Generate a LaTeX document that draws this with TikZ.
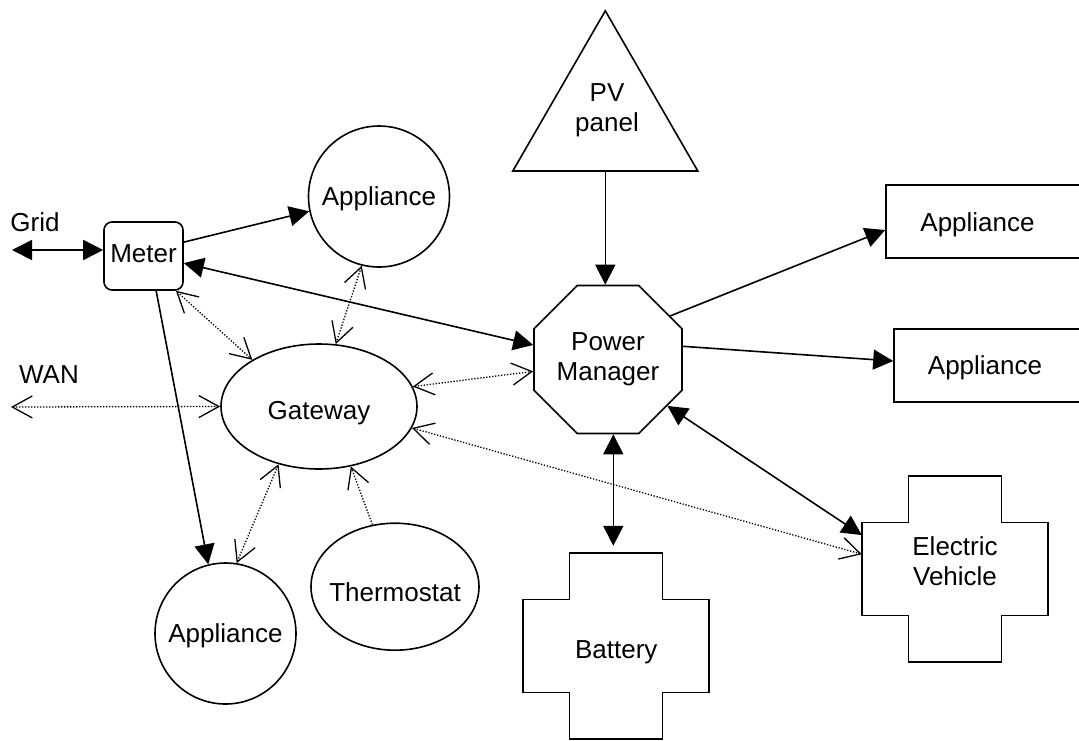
\documentclass[tikz,border=0pt]{standalone}
\usepackage{fontspec}
\setmainfont{Liberation Sans}
\usetikzlibrary{shapes.geometric,arrows.meta,calc}
\newcommand\plusoutline[1]{%
  \draw[shapeline] ($(#1.north west)+(46.5,0)$) -- ++(93,0) -- ++(0,46.5) -- ++(46.5,0)
    -- ++(0,93) -- ++(-46.5,0) -- ++(0,46.5) -- ++(-93,0) -- ++(0,-46.5)
    -- ++(-46.5,0) -- ++(0,-93) -- ++(46.5,0) -- cycle;}
\begin{document}
\begin{tikzpicture}[x=1pt,y=-1pt,
  every node/.style={font=\fontsize{26}{30}\selectfont, inner sep=0pt},
  shapeline/.style={draw=black, line width=1.6pt},
  circ/.style={shapeline, circle, minimum size=141pt, text height=18.6pt, text depth=0pt},
  ell/.style={shapeline, ellipse, text depth=0pt},
  conn/.style={line width=1.6pt},
  dconn/.style={line width=1.3pt, dash pattern=on 1.3pt off 1.7pt},
  fa/.style={conn, -{Triangle[length=20pt,width=20pt]}},
  fab/.style={conn, {Triangle[length=20pt,width=20pt]}-{Triangle[length=20pt,width=20pt]}},
  oa/.style={dconn, -{Straight Barb[length=20pt,width=22pt]}},
  oab/.style={dconn, {Straight Barb[length=20pt,width=22pt]}-{Straight Barb[length=20pt,width=22pt]}},
  lbl/.style={text height=18.6pt, text depth=0pt},
  ml/.style={align=center},
]
\fill[white] (0,0) rectangle (1079,740);
\clip (0,0) rectangle (1079,740);

% nodes
\node[shapeline, rectangle, rounded corners=8pt, minimum width=79pt, minimum height=68pt,
      text height=13.2pt, text depth=0pt] (meter) at (143.5,256) {Meter};
\node[circ] (app1) at (379,196.5) {Appliance};
\node[circ] (app2) at (225.5,633.5) {Appliance};
\node[ell, minimum width=196pt, minimum height=125pt, text height=25.6pt] (gw) at (319,406.5) {Gateway};
\node[ell, minimum width=168pt, minimum height=127pt, text height=29.2pt] (th) at (395,586.7) {\makebox[0pt]{Thermostat}};
\node[shapeline, regular polygon, regular polygon sides=3, minimum size=213.6pt] (pv) at (605.3,117.6) {};
\node[ml] (pvt) at (607,110) {PV\\panel};
\node[shapeline, regular polygon, regular polygon sides=8, minimum size=160.2pt, ml] (pm) at (608,359.5) {Power\\Manager};
\node[shapeline, rectangle, minimum width=220pt, minimum height=73pt] (ap1) at (996,221.5) {};
\node[lbl] (ap1t) at (977.5,222.5) {Appliance};
\node[shapeline, rectangle, minimum width=220pt, minimum height=73pt] (ap2) at (1004,365.5) {};
\node[lbl] (ap2t) at (985,365) {Appliance};
\node[rectangle, minimum size=186pt, text height=24pt, text depth=0pt] (batt) at (616.3,646) {Battery};
\plusoutline{batt}
\node[rectangle, minimum size=186pt] (ev) at (955,569) {};
\plusoutline{ev}
\node[ml] (evt) at (955,561) {Electric\\Vehicle};
\node[lbl] (grid) at (35,222.5) {Grid};
\node[lbl] (wan) at (49,374.5) {WAN};

\coordinate (gridend) at (12,250);
\coordinate (wanend) at (11,407);
\coordinate (bt) at ($(batt.north)+(-3,-7)$);

% solid connectors
\draw[fab] (gridend) -- ([yshift=6pt]meter.west);
\draw[fa] (meter.19.5) -- (app1.192);
\draw[fab] (meter.-10) -- (pm.169);
\draw[fa] (meter.-70) -- (app2.104);
\draw[fa] (pv.side 2) -- (pv.side 2 |- pm.90);
\draw[fa] (pm.35) -- ([yshift=-8.5pt]ap1.west);
\draw[fa] (pm.10) -- ([yshift=4.5pt]ap2.west);
\draw[fab] (bt |- pm.270) -- (bt);
\draw[fab] (pm.-38) -- (ev.160);

% dotted connectors
\draw[oab] (meter.-47) -- (gw.145);
\draw[oab] (app1.256) -- (gw.75);
\draw[oab] (wanend) -- (gw.west);
\draw[oab] (gw.12) -- (pm.189);
\draw[oab] (gw.-13) -- (ev.171);
\draw[oa] (th.110) -- (gw.-62);
\draw[oab] (gw.-125) -- (app2.81.5);
\end{tikzpicture}
\end{document}
